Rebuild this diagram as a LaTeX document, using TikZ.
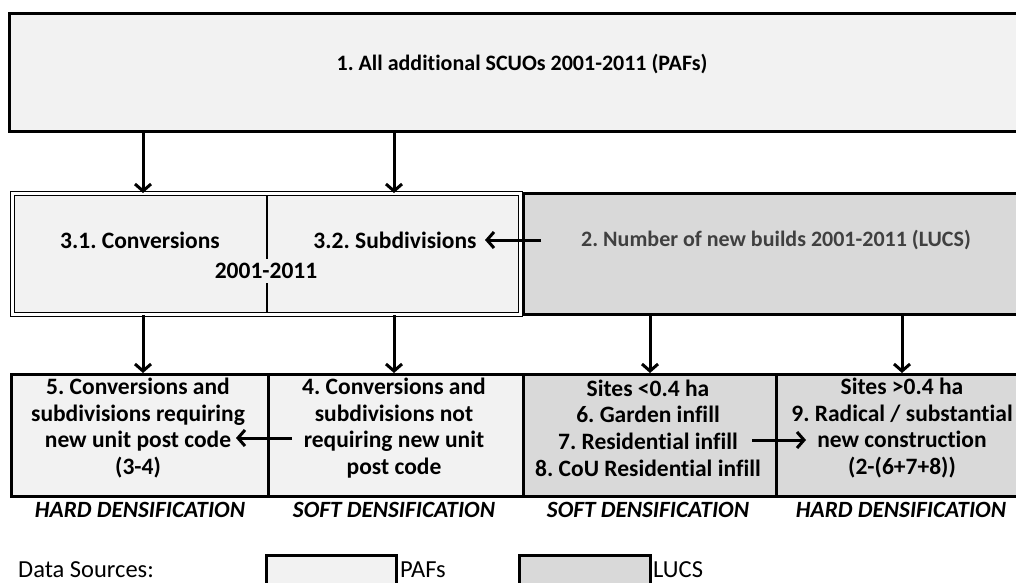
\documentclass[tikz,border=0pt]{standalone}
\usepackage{fontspec}
\setmainfont{Carlito}[Ligatures={NoCommon}]
\usetikzlibrary{arrows.meta}
\definecolor{pafc}{HTML}{F2F2F2}
\definecolor{lucsc}{HTML}{D9D9D9}
\definecolor{txtgray}{HTML}{404040}
\frenchspacing
\begin{document}
\begin{tikzpicture}[x=1pt,y=-1pt,
  thickbox/.style={draw=black, line width=3pt, inner sep=0pt, anchor=north west},
  dblbox/.style={draw=black, line width=1.2pt, double=white, double distance=2.4pt, inner sep=0pt, anchor=north west},
  lbl/.style={font=\fontsize{23.5}{26.7}\selectfont\bfseries, align=center, inner sep=0pt},
  smlbl/.style={font=\fontsize{22}{26.7}\selectfont\bfseries, align=center, inner sep=0pt},
  denslbl/.style={font=\fontsize{23.3}{26.7}\selectfont\bfseries\itshape, inner sep=0pt},
  legtxt/.style={font=\fontsize{24.5}{26.7}\selectfont, inner sep=0pt},
  arr/.style={line width=3pt, -{Straight Barb[length=7pt,width=16pt]}},
]
\useasboundingbox (0,0) rectangle (1016,582);
\begin{scope}
\clip (0,0) rectangle (1016,582);
% boxes
\node[thickbox, fill=pafc, minimum width=1022pt, minimum height=118pt] (b1) at (8,12) {};
\node[thickbox, fill=lucsc, minimum width=508pt, minimum height=121pt] (b2) at (522,192) {};
\node[dblbox, fill=pafc, minimum width=508pt, minimum height=121pt] (b3) at (12,193) {};
\node[thickbox, fill=pafc, minimum width=257pt, minimum height=122pt] (b5) at (10,373) {};
\node[thickbox, fill=pafc, minimum width=255pt, minimum height=122pt] (b4) at (267,373) {};
\node[thickbox, fill=lucsc, minimum width=253pt, minimum height=122pt] (b6) at (522,373) {};
\node[thickbox, fill=lucsc, minimum width=255pt, minimum height=122pt] (b9) at (775,373) {};
% legend boxes
\node[thickbox, fill=pafc, minimum width=130pt, minimum height=40pt] (lp) at (265,554) {};
\node[thickbox, fill=lucsc, minimum width=131pt, minimum height=40pt] (ll) at (518,554) {};
\end{scope}
% divider in double box
\coordinate (dv) at (267,250);
\draw[line width=1.2pt, shorten <=2.4pt, shorten >=2.4pt] (b3.north -| dv) -- (b3.south -| dv);
% texts
\node[smlbl] (t1) at (522,64) {1. All additional SCUOs 2001-2011 (PAFs)};
\node[lbl] (t31) at (140,240) {3.1. Conversions};
\node[lbl] (t32) at (395,240) {3.2. Subdivisions};
\node[lbl, fill=pafc, inner xsep=1pt, inner ysep=4pt] (t3) at (266,271) {2001-2011};
\node[smlbl, text=txtgray] (t2) at (776,240) {2. Number of new builds 2001-2011 (LUCS)};
\node[lbl] (t5) at (138,428) {5. Conversions and\\subdivisions requiring\\new unit post code\\(3-4)};
\node[lbl] (t4) at (394,428) {4. Conversions and\\subdivisions not\\requiring new unit\\post code};
\node[lbl] (t6) at (648,428) {Sites {<}0.4 ha\\6. Garden infill\\7. Residential infill\\8. CoU Residential infill};
\node[lbl] (t9) at (902,428) {Sites {>}0.4 ha\\9. Radical / substantial\\new construction\\(2-(6+7+8))};
\node[denslbl] (d5) at (140,510) {HARD DENSIFICATION};
\node[denslbl] (d4) at (394,510) {SOFT DENSIFICATION};
\node[denslbl] (d6) at (648,510) {SOFT DENSIFICATION};
\node[denslbl] (d9) at (901,510) {HARD DENSIFICATION};
\node[legtxt, anchor=base west] (ds) at (18,577) {Data Sources:};
\node[legtxt, anchor=base west] (lpt) at (400,577) {PAFs};
\node[legtxt, anchor=base west] (llt) at (653,577) {LUCS};
% arrow columns
\coordinate (c1) at (143,0);
\coordinate (c2) at (394,0);
\coordinate (c3) at (650,0);
\coordinate (c4) at (902,0);
\draw[arr] (b1.south -| c1) -- (b3.north -| c1);
\draw[arr] (b1.south -| c2) -- (b3.north -| c2);
\draw[arr] (b3.south -| c1) -- (b5.north -| c1);
\draw[arr] (b3.south -| c2) -- (b4.north -| c2);
\draw[arr] (b2.south -| c3) -- (b6.north -| c3);
\draw[arr] (b2.south -| c4) -- (b9.north -| c4);
% horizontal arrows
\coordinate (h2s) at (541,240);
\coordinate (h2e) at (485,240);
\draw[arr] (h2s) -- (h2e);
\coordinate (h4s) at (292,438);
\coordinate (h4e) at (236,438);
\draw[arr] (h4s) -- (h4e);
\coordinate (h7s) at (752,440);
\coordinate (h7e) at (806,440);
\draw[arr] (h7s) -- (h7e);
\end{tikzpicture}
\end{document}
